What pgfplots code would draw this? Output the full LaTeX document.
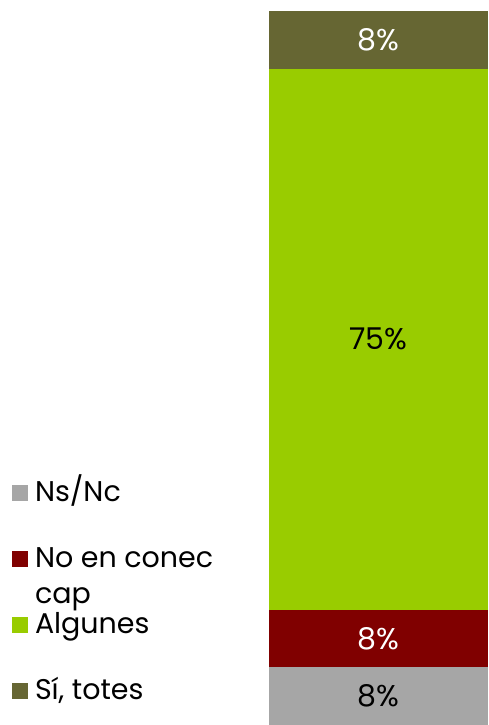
\documentclass[border=0pt]{standalone}
\usepackage{fontspec}
\setsansfont{Poppins}
\usepackage{pgfplots}
\pgfplotsset{compat=1.18}
\definecolor{cgray}{HTML}{A6A6A6}
\definecolor{cred}{HTML}{800000}
\definecolor{cgreen}{HTML}{99CC00}
\definecolor{colive}{HTML}{666633}
\pgfplotsset{
  mylegend/.style={legend image code/.code={\fill[##1,draw=none] (0pt,1pt) rectangle (16pt,17pt);}},
}
\begin{document}
\begin{tikzpicture}
\begin{axis}[
  scale only axis, width=488pt, height=725pt,
  xmin=0, xmax=488, ymin=0, ymax=100.5,
  axis line style={draw=none}, ticks=none,
  ybar stacked, bar width=219,
  point meta=explicit symbolic,
  nodes near coords={\pgfplotspointmeta\%},
  every node near coord/.append style={font=\sffamily\fontsize{30}{36}\selectfont, anchor=center},
  legend style={at={(rel axis cs:0.02459,0.33517)}, anchor=north west,
    draw=none, fill=none, inner sep=0pt, outer sep=0pt,
    font=\sffamily\fontsize{28.5}{36}\selectfont,
    cells={anchor=base west},
    nodes={inner sep=0pt, outer sep=0pt, text height=20pt, text depth=6pt},
    row sep=40pt,
    /tikz/every odd column/.append style={column sep=7pt}},
]
\addplot[fill=cgray, draw=none, mylegend,
  every node near coord/.append style={text=black}]
  coordinates {(378.5,8) [8]};
\addplot[fill=cred, draw=none, mylegend,
  every node near coord/.append style={text=white}]
  coordinates {(378.5,8) [8]};
\addplot[fill=cgreen, draw=none, mylegend,
  every node near coord/.append style={text=black}]
  coordinates {(378.5,75) [75]};
\addplot[fill=colive, draw=none, mylegend,
  every node near coord/.append style={text=white}]
  coordinates {(378.5,8) [8]};
\legend{Ns/Nc, \parbox[t]{200pt}{No en conec\\cap}, Algunes, {Sí, totes}}
\end{axis}
\end{tikzpicture}
\end{document}
